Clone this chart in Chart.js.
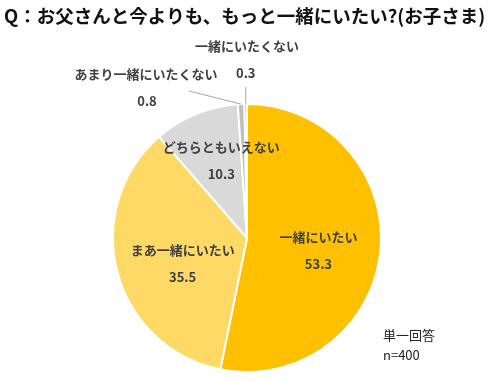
<!DOCTYPE html>
<html><head><meta charset="utf-8">
<script src="https://cdn.jsdelivr.net/npm/chart.js@4.4.1/dist/chart.umd.min.js"></script>
<style>html,body{margin:0;padding:0;background:#fff;}#wrap{width:500px;height:381px;position:relative;}</style>
</head><body><div id="wrap"><canvas id="c" width="500" height="381"></canvas></div>
<script>
const categories = ["一緒にいたい", "まあ一緒にいたい", "どちらともいえない", "あまり一緒にいたくない", "一緒にいたくない"];
const values = [53.3, 35.5, 10.3, 0.8, 0.3];
const colors = ["#FFC000", "#FFD966", "#D9D9D9", "#BFBFBF", "#A6A6A6"];
const titleText = "Q：お父さんと今よりも、もっと一緒にいたい?(お子さま)";
const noteLines = ["単一回答", "n=400"];

// label placement: inside labels use radius factor + angle nudge; outside labels positioned around the pie top
const placement = [
  {type: "in", r: 0.54, da: 0.061},
  {type: "in", r: 0.515, da: -0.112},
  {type: "in", r: 0.61, da: 0.072},
  {type: "out", nameX: 146, nameY: 74, valX: 147, valY: 101, elbowX: 189, elbowY: 91},
  {type: "out", nameX: 247, nameY: 46, valX: null, valY: 73, elbowX: null, elbowY: 87}
];

const FONT = "'Noto Sans CJK JP', 'Noto Sans', sans-serif";

const labelPlugin = {
  id: "labels",
  afterDraw(chart) {
    const ctx = chart.ctx;
    const meta = chart.getDatasetMeta(0);
    ctx.save();
    ctx.fillStyle = "#111";
    ctx.font = "bold 18.5px " + FONT;
    ctx.textAlign = "left";
    ctx.textBaseline = "middle";
    ctx.fillText(titleText, 4, 16);

    ctx.textAlign = "center";
    meta.data.forEach((arc, i) => {
      const p = placement[i];
      const {x, y, startAngle, endAngle, outerRadius} = arc.getProps(["x","y","startAngle","endAngle","outerRadius"], true);
      const mid = (startAngle + endAngle) / 2;
      ctx.fillStyle = "#404040";
      ctx.font = "bold 13px " + FONT;
      if (p.type === "in") {
        const a = mid + p.da;
        const cx = x + Math.cos(a) * outerRadius * p.r;
        const cy = y + Math.sin(a) * outerRadius * p.r;
        ctx.fillText(categories[i], cx, cy - 13);
        ctx.fillText(values[i].toFixed(1), cx, cy + 14);
      } else {
        const ex = x + Math.cos(mid) * outerRadius;
        const ey = y + Math.sin(mid) * outerRadius;
        ctx.strokeStyle = "#A6A6A6";
        ctx.lineWidth = 1;
        ctx.beginPath();
        ctx.moveTo(ex, ey);
        ctx.lineTo(p.elbowX !== null ? p.elbowX : ex, p.elbowY);
        ctx.stroke();
        ctx.fillText(categories[i], p.nameX, p.nameY);
        ctx.fillText(values[i].toFixed(1), p.valX !== null ? p.valX : ex, p.valY);
      }
    });
    ctx.fillStyle = "#222";
    ctx.font = "13px " + FONT;
    ctx.textAlign = "left";
    ctx.fillText(noteLines[0], 383, 335);
    ctx.fillText(noteLines[1], 383, 355);
    ctx.restore();
  }
};

new Chart(document.getElementById("c"), {
  type: "pie",
  data: {
    labels: categories,
    datasets: [{
      data: values,
      backgroundColor: colors,
      borderColor: "#FFFFFF",
      borderWidth: 2
    }]
  },
  options: {
    responsive: false,
    animation: false,
    layout: {padding: {left: 112, right: 118, top: 103, bottom: 8}},
    plugins: {legend: {display: false}, tooltip: {enabled: false}, title: {display: false}}
  },
  plugins: [labelPlugin]
});
</script></body></html>
